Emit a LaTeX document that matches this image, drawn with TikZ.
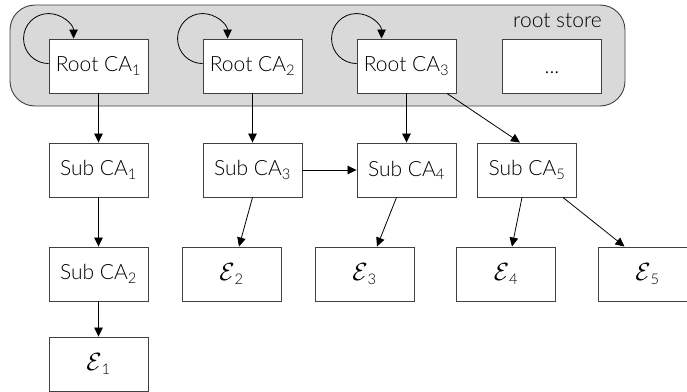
\documentclass[tikz,border=0pt]{standalone}
\usepackage{fontspec}
\setmainfont{Lato Light}
\usetikzlibrary{arrows.meta,calc}
\definecolor{storefill}{HTML}{D9D9D9}
\definecolor{edge}{HTML}{404040}
\tikzset{
  box/.style={draw=edge, fill=white, line width=0.9pt, minimum width=99pt,
    minimum height=54pt, inner sep=0pt, font=\fontsize{21}{24}\selectfont},
  store/.style={draw=edge, fill=storefill, line width=0.9pt, rounded corners=25pt,
    minimum width=615pt, minimum height=101pt, inner sep=0pt},
  arr/.style={line width=0.8pt, draw=black, -{Triangle[length=9pt,width=8.5pt]}},
}
\newcommand{\ent}[1]{\fontsize{23}{24}\selectfont$\mathcal{E}$\fontsize{21}{24}\selectfont\textsubscript{#1}}
\begin{document}
\begin{tikzpicture}[x=1pt,y=-1pt]
  \useasboundingbox (0,0) rectangle (687,391);
  % root store container
  \node[store] (store) at (317.5,55.5) {};
  \node[anchor=base east, font=\fontsize{21}{24}\selectfont, inner sep=0pt]
    (storelabel) at (602,27) {root store};
  % root certificates
  \node[box] (root1) at (98.5,66)  {Root CA\textsubscript{1}};
  \node[box] (root2) at (252.5,66) {Root CA\textsubscript{2}};
  \node[box] (root3) at (406.5,66) {Root CA\textsubscript{3}};
  \node[box] (more)  at (552,66)   {\vphantom{Root}...};
  % intermediate certificates
  \node[box] (sub1) at (98.5,170)  {Sub CA\textsubscript{1}};
  \node[box] (sub3) at (252.5,170) {Sub CA\textsubscript{3}};
  \node[box] (sub4) at (406.5,170) {Sub CA\textsubscript{4}};
  \node[box] (sub5) at (527,170)   {Sub CA\textsubscript{5}};
  \node[box] (sub2) at (98.5,274)  {Sub CA\textsubscript{2}};
  % end entities
  \node[box] (e2) at (231.5,274) {\ent{2}};
  \node[box] (e3) at (364.5,274) {\ent{3}};
  \node[box] (e4) at (506,274)   {\ent{4}};
  \node[box] (e5) at (647.5,274) {\ent{5}};
  \node[box] (e1) at (98.5,364)  {\ent{1}};
  % self-signed loops
  \foreach \r in {root1,root2,root3}
    \draw[arr] ($(\r.north west)+(0,25)$) arc[start angle=90,end angle=360,radius=25];
  % issuing relations
  \draw[arr] (root1) -- (sub1);
  \draw[arr] (root2) -- (sub3);
  \draw[arr] (root3) -- (sub4);
  \draw[arr] ($(root3.south)+(40.5,0)$) -- ($(sub5.north)+(-7,0)$);
  \draw[arr] (sub3) -- (sub4);
  \draw[arr] (sub1) -- (sub2);
  \draw[arr] (sub2) -- (e1);
  \draw[arr] (sub3.south) -- ($(e2.north)+(7.5,0)$);
  \draw[arr] ($(sub4.south)+(-10,0)$) -- ($(e3.north)+(12.5,0)$);
  \draw[arr] ($(sub5.south)+(-5,0)$) -- ($(e4.north)+(6,0)$);
  \draw[arr] ($(sub5.south)+(36,0)$) -- ($(e5.north)+(-23,0)$);
\end{tikzpicture}
\end{document}
